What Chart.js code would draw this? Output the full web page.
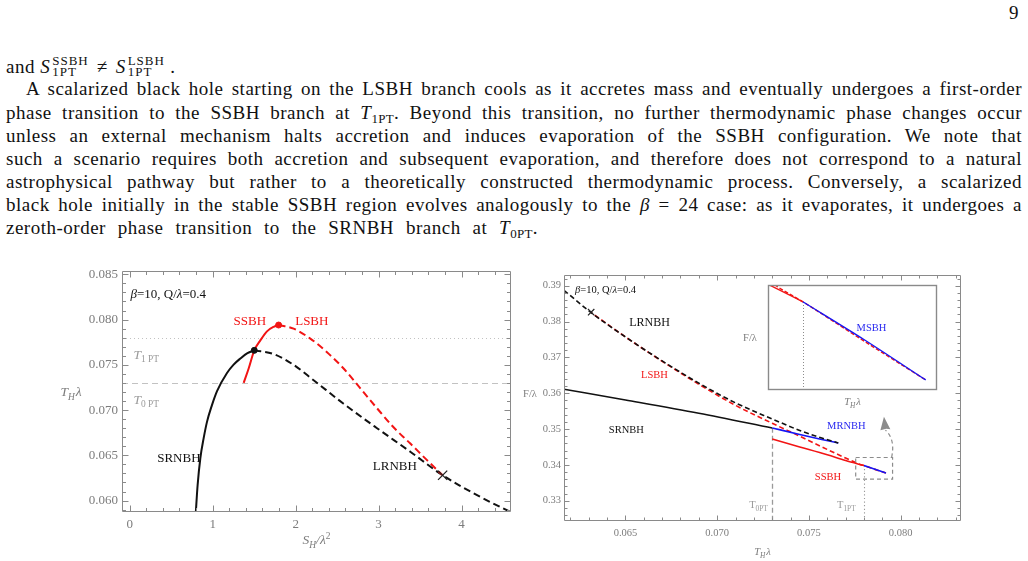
<!DOCTYPE html>
<html><head><meta charset="utf-8">
<script src="https://cdn.jsdelivr.net/npm/chart.js@4.4.1/dist/chart.umd.min.js"></script>
<style>
html,body{margin:0;padding:0;background:#fff;}
body{width:1028px;height:561px;position:relative;overflow:hidden;font-family:"Liberation Serif","Times New Roman",serif;color:#111;}
.ln{position:absolute;left:6px;width:1016px;font-size:19px;letter-spacing:0.5px;line-height:23px;text-align:justify;text-align-last:justify;}
.ss{display:inline-block;vertical-align:-3px;font-size:13px;line-height:11px;text-align:left;margin-left:2px;letter-spacing:1px;}
.ss span{display:block;}
.ne{display:inline-block;padding:0 8px;}
.sb{font-size:13px;vertical-align:-4px;line-height:0;letter-spacing:0.3px;}
canvas{position:absolute;}
</style></head>
<body>
<div class="ln" style="top:1px;left:1009px;width:20px;text-align:left;text-align-last:left;">9</div>
<div class="ln" style="top:55px;text-align:left;text-align-last:left;">and&nbsp;<i>S</i><span class="ss"><span>SSBH</span><span>1PT</span></span><span class="ne">≠</span><i>S</i><span class="ss"><span>LSBH</span><span>1PT</span></span>&nbsp;.</div>
<div class="ln" style="top:77px;text-indent:20px;">A scalarized black hole starting on the LSBH branch cools as it accretes mass and eventually undergoes a first-order</div>
<div class="ln" style="top:101px;">phase transition to the SSBH branch at <i>T</i><span class="sb">1PT</span>. Beyond this transition, no further thermodynamic phase changes occur</div>
<div class="ln" style="top:124px;">unless an external mechanism halts accretion and induces evaporation of the SSBH configuration. We note that</div>
<div class="ln" style="top:147px;">such a scenario requires both accretion and subsequent evaporation, and therefore does not correspond to a natural</div>
<div class="ln" style="top:170px;">astrophysical pathway but rather to a theoretically constructed thermodynamic process. Conversely, a scalarized</div>
<div class="ln" style="top:193px;">black hole initially in the stable SSBH region evolves analogously to the <i>β</i> = 24 case: as it evaporates, it undergoes a</div>
<div class="ln" style="top:216px;width:532px;">zeroth-order phase transition to the SRNBH branch at <i>T</i><span class="sb">0PT</span>.</div>

<canvas id="left" width="520" height="306" style="left:0;top:255px;"></canvas>
<canvas id="right" width="513" height="306" style="left:515px;top:255px;"></canvas>
<canvas id="inset" width="210" height="130" style="left:735px;top:280px;"></canvas>

<script>
// ===== Left panel: T_H λ versus S_H/λ² =====
const SRNBH_S = [0.796, 0.819, 0.852, 0.892, 0.932, 0.990, 1.053, 1.173, 1.250, 1.334, 1.420, 1.502];
const SRNBH_T = [0.0585, 0.0617, 0.0647, 0.0669, 0.0687, 0.0705, 0.0721, 0.0741, 0.0750, 0.0757, 0.0763, 0.0766];
const LRNBH_S = [1.502, 1.735, 1.976, 2.217, 2.578, 2.981, 3.382, 3.771, 4.186, 4.620];
const LRNBH_T = [0.0766, 0.0762, 0.0750, 0.0733, 0.0707, 0.0680, 0.0654, 0.0628, 0.0606, 0.0586];
const SSBH_S = [1.374, 1.434, 1.502, 1.575, 1.655, 1.735, 1.795];
const SSBH_T = [0.0730, 0.0746, 0.0766, 0.0777, 0.0787, 0.0792, 0.0794];
const LSBH_S = [1.795, 1.976, 2.177, 2.378, 2.578, 2.780, 2.981, 3.180, 3.382, 3.580, 3.771];
const LSBH_T = [0.0794, 0.0790, 0.0779, 0.0764, 0.0746, 0.0724, 0.0702, 0.0681, 0.0663, 0.0645, 0.0628];
const CRIT_POINT = [1.502, 0.0766];     // black dot
const TMAX_POINT = [1.795, 0.0794];     // red dot
const CROSS_POINT = [3.771, 0.0628];    // X mark
const T_1PT = 0.078;
const T_0PT = 0.073;
const LEFT_X_TICKS = [0, 1, 2, 3, 4];
const LEFT_Y_TICKS = [0.060, 0.065, 0.070, 0.075, 0.080, 0.085];

// ===== Right panel: F/λ versus T_H λ =====
const R_LRNBH_T = [0.06165, 0.0631, 0.0650, 0.0670, 0.0690, 0.0710, 0.0730, 0.0745, 0.0757, 0.0766];
const R_LRNBH_F = [0.3887, 0.3826, 0.3757, 0.3690, 0.3628, 0.3573, 0.3528, 0.3496, 0.3475, 0.3461];
const R_LSBH_T = [0.0631, 0.0650, 0.0670, 0.0690, 0.0710, 0.0730, 0.0745, 0.0760, 0.0770, 0.0777, 0.0780, 0.0786, 0.0792];
const R_LSBH_F = [0.3826, 0.3757, 0.3689, 0.3625, 0.3566, 0.3516, 0.3480, 0.3443, 0.3419, 0.3403, 0.3398, 0.33874, 0.3377];
const R_SRNBH_T = [0.06165, 0.0650, 0.0690, 0.0730];
const R_SRNBH_F = [0.3611, 0.3581, 0.3544, 0.3503];
const R_MRNBH_T = [0.0730, 0.0745, 0.0757, 0.0766];
const R_MRNBH_F = [0.3503, 0.3485, 0.3471, 0.3461];
const R_SSBH_T = [0.0730, 0.0745, 0.0760, 0.0770, 0.0780];
const R_SSBH_F = [0.3472, 0.3450, 0.3428, 0.3412, 0.3398];
const R_MSBH_T = [0.0780, 0.0786, 0.0792];
const R_MSBH_F = [0.3398, 0.33878, 0.3377];
const R_CROSS_POINT = [0.06313, 0.3826];
const ZOOM_BOX = [0.07755, 0.07956, 0.33603, 0.34205];   // T range, F range of the dashed box
const RIGHT_X_TICKS = [0.065, 0.070, 0.075, 0.080];
const RIGHT_Y_TICKS = [0.33, 0.34, 0.35, 0.36, 0.37, 0.38, 0.39];

// ===== styling =====
const FAM = '"Liberation Serif","Times New Roman",serif';
Chart.defaults.font.family = FAM;
const RED = '#f21414', BLUE = '#1515f5', BLACK = '#111111', GRAY = '#8a8a8a', TXTGRAY = '#7c7c7c';

function pts(xs, ys){ return xs.map((x, i) => ({x: x, y: ys[i]})); }
function curve(xs, ys, color, width, dash, offset){
  return {data: pts(xs, ys), borderColor: color, backgroundColor: color, borderWidth: width,
    borderDash: dash || [], borderDashOffset: offset || 0, pointRadius: 0, pointHoverRadius: 0,
    fill: false, cubicInterpolationMode: 'monotone', showLine: true, borderCapStyle: 'butt'};
}
function marker(p, style, r, color, bw){
  return {data: [{x: p[0], y: p[1]}], showLine: false, pointStyle: style, pointRadius: r,
    pointHoverRadius: r, pointBorderColor: color, pointBackgroundColor: color,
    pointBorderWidth: bw || 1, borderColor: color, backgroundColor: color};
}
function axis(min, max, ticks, fmt, size, pad, prop, val){
  return {type: 'linear', min: min, max: max,
    grid: {display: false, drawTicks: false}, border: {display: false},
    ticks: {autoSkip: false, maxRotation: 0, minRotation: 0, padding: pad, color: TXTGRAY,
      font: {size: size, family: FAM}, callback: (v) => fmt(v)},
    afterBuildTicks: (s) => { s.ticks = ticks.map(v => ({value: v})); },
    afterFit: (s) => { s[prop] = val; s.paddingTop = 0; s.paddingBottom = 0; s.paddingLeft = 0; s.paddingRight = 0; }
  };
}
function hidden(min, max){ return {type: 'linear', min: min, max: max, display: false}; }

function drawRich(ctx, segs, x, y, size, color, align){
  const parts = segs.map(s => {
    const fs = (s.sub || s.sup) ? size * 0.7 : size;
    const font = (s.i ? 'italic ' : '') + fs + 'px ' + FAM;
    ctx.font = font;
    return {t: s.t, font: font, w: ctx.measureText(s.t).width,
      dy: s.sub ? size * 0.27 : (s.sup ? -size * 0.4 : 0), gap: s.gap || 0};
  });
  const total = parts.reduce((a, p) => a + p.w + p.gap, 0);
  let cx = align === 'left' ? x : (align === 'right' ? x - total : x - total / 2);
  const by = y + size * 0.33;
  ctx.save();
  ctx.fillStyle = color; ctx.textAlign = 'left'; ctx.textBaseline = 'alphabetic';
  parts.forEach(p => { ctx.font = p.font; cx += p.gap; ctx.fillText(p.t, cx, by + p.dy); cx += p.w; });
  ctx.restore();
}
function seg(ctx, x1, y1, x2, y2){ ctx.beginPath(); ctx.moveTo(x1, y1); ctx.lineTo(x2, y2); ctx.stroke(); }

function frameTicks(o){
  return {id: 'frameTicks', afterDraw(chart){
    const {ctx, chartArea: a, scales: {x, y}} = chart;
    ctx.save(); ctx.strokeStyle = GRAY; ctx.lineWidth = 1; ctx.setLineDash([]);
    const l = Math.round(a.left) + 0.5, r = Math.round(a.right) - 0.5, t = Math.round(a.top) + 0.5, b = Math.round(a.bottom) - 0.5;
    ctx.beginPath(); ctx.rect(l, t, r - l, b - t);
    const isMaj = (v, m) => Math.abs(v / m - Math.round(v / m)) < 1e-6;
    let k0 = Math.ceil(x.min / o.xMinor - 1e-9), k1 = Math.floor(x.max / o.xMinor + 1e-9);
    for (let k = k0; k <= k1; k++){
      const v = k * o.xMinor, len = isMaj(v, o.xMajor) ? o.major : o.minor;
      const px = Math.round(x.getPixelForValue(v)) + 0.5;
      ctx.moveTo(px, b); ctx.lineTo(px, b - len); ctx.moveTo(px, t); ctx.lineTo(px, t + len);
    }
    k0 = Math.ceil(y.min / o.yMinor - 1e-9); k1 = Math.floor(y.max / o.yMinor + 1e-9);
    for (let k = k0; k <= k1; k++){
      const v = k * o.yMinor, len = isMaj(v, o.yMajor) ? o.major : o.minor;
      const py = Math.round(y.getPixelForValue(v)) + 0.5;
      ctx.moveTo(l, py); ctx.lineTo(l + len, py); ctx.moveTo(r, py); ctx.lineTo(r - len, py);
    }
    ctx.stroke(); ctx.restore();
    if (o.titles) o.titles(chart);
  }};
}

// ---------- text annotations ----------
const LEFT_LABELS = [
  {x: 0.01, y: 0.08282, segs: [{t: 'β', i: true}, {t: '=10, Q/'}, {t: 'λ', i: true}, {t: '=0.4'}], color: BLACK, size: 13, align: 'left'},
  {x: 1.448, y: 0.07983, segs: [{t: 'SSBH'}], color: RED, size: 13, align: 'center'},
  {x: 2.195, y: 0.07983, segs: [{t: 'LSBH'}], color: RED, size: 13, align: 'center'},
  {x: 0.046, y: 0.07618, segs: [{t: 'T', i: true}, {t: '1 PT', sub: true}], color: '#9a9a9a', size: 13.5, align: 'left'},
  {x: 0.046, y: 0.07121, segs: [{t: 'T', i: true}, {t: '0 PT', sub: true}], color: '#9a9a9a', size: 13.5, align: 'left'},
  {x: 0.593, y: 0.06479, segs: [{t: 'SRNBH'}], color: BLACK, size: 13, align: 'center'},
  {x: 3.195, y: 0.0639, segs: [{t: 'LRNBH'}], color: BLACK, size: 13, align: 'center'}
];
const RIGHT_LABELS = [
  {x: 0.06225, y: 0.3888, segs: [{t: 'β', i: true}, {t: '=10, Q/'}, {t: 'λ', i: true}, {t: '=0.4'}], color: BLACK, size: 10.5, align: 'left'},
  {x: 0.06631, y: 0.37988, segs: [{t: 'LRNBH'}], color: BLACK, size: 12, align: 'center'},
  {x: 0.06658, y: 0.3651, segs: [{t: 'LSBH'}], color: RED, size: 10.5, align: 'center'},
  {x: 0.06505, y: 0.34977, segs: [{t: 'SRNBH'}], color: BLACK, size: 10.5, align: 'center'},
  {x: 0.07704, y: 0.35089, segs: [{t: 'MRNBH'}], color: '#2a2af0', size: 10.5, align: 'center'},
  {x: 0.07604, y: 0.33667, segs: [{t: 'SSBH'}], color: RED, size: 10.5, align: 'center'},
  {x: 0.07225, y: 0.3288, segs: [{t: 'T'}, {t: '0PT', sub: true}], color: '#999', size: 10.5, align: 'center'},
  {x: 0.07704, y: 0.3288, segs: [{t: 'T'}, {t: '1PT', sub: true}], color: '#999', size: 10.5, align: 'center'}
];
function drawLabels(chart, list){
  const {ctx, scales: {x, y}} = chart;
  list.forEach(L => drawRich(ctx, L.segs, x.getPixelForValue(L.x), y.getPixelForValue(L.y), L.size, L.color, L.align));
}

// ---------- left chart ----------
const leftDeco = {id: 'leftDeco',
  beforeDatasetsDraw(chart){
    const {ctx, chartArea: a, scales: {y}} = chart;
    ctx.save(); ctx.strokeStyle = '#c2c2c2'; ctx.lineWidth = 1;
    let py = Math.round(y.getPixelForValue(T_1PT)) + 0.5;
    ctx.setLineDash([1, 3]); seg(ctx, a.left, py, a.right, py);
    py = Math.round(y.getPixelForValue(T_0PT)) + 0.5;
    ctx.setLineDash([6, 4]); seg(ctx, a.left, py, a.right, py);
    ctx.restore();
  },
  afterDatasetsDraw(chart){ drawLabels(chart, LEFT_LABELS); }
};
new Chart(document.getElementById('left'), {
  type: 'line',
  data: {datasets: [
    marker(CRIT_POINT, 'circle', 3, BLACK),
    marker(TMAX_POINT, 'circle', 3, RED),
    marker(CROSS_POINT, 'crossRot', 6.5, '#222', 1.3),
    curve(SSBH_S, SSBH_T, RED, 2),
    curve(LSBH_S, LSBH_T, RED, 2, [7, 4]),
    curve(SRNBH_S, SRNBH_T, BLACK, 2),
    curve(LRNBH_S, LRNBH_T, BLACK, 2, [7, 4])
  ]},
  options: {
    responsive: false, animation: false, devicePixelRatio: 1,
    layout: {padding: {left: 0, top: 16, right: 9, bottom: 0}},
    plugins: {legend: {display: false}, tooltip: {enabled: false}},
    scales: {
      x: axis(-0.092, 4.595, LEFT_X_TICKS, v => String(Math.round(v)), 13, 5, 'height', 49),
      y: axis(0.05874, 0.08537, LEFT_Y_TICKS, v => v.toFixed(3), 13, 4, 'width', 122)
    }
  },
  plugins: [leftDeco, frameTicks({xMinor: 0.2, xMajor: 1, yMinor: 0.001, yMajor: 0.005, major: 6, minor: 3.5,
    titles(chart){
      const {ctx, chartArea: a, scales: {y}} = chart;
      drawRich(ctx, [{t: 'T', i: true}, {t: 'H', i: true, sub: true}, {t: 'λ', i: true, gap: 1}], a.left - 51, y.getPixelForValue(0.0720), 13.5, TXTGRAY, 'center');
      drawRich(ctx, [{t: 'S', i: true}, {t: 'H', i: true, sub: true}, {t: '/λ', i: true}, {t: '2', sup: true}], (a.left + a.right) / 2, a.bottom + 28, 13.5, TXTGRAY, 'center');
    }})]
});

// ---------- right chart ----------
const rightDeco = {id: 'rightDeco',
  beforeDatasetsDraw(chart){
    const {ctx, chartArea: a, scales: {x, y}} = chart;
    ctx.save(); ctx.lineWidth = 1.3; ctx.strokeStyle = '#9a9a9a';
    let px = Math.round(x.getPixelForValue(T_0PT)) + 0.5;
    ctx.setLineDash([5, 3]); seg(ctx, px, a.bottom, px, y.getPixelForValue(R_SRNBH_F[R_SRNBH_F.length - 1]));
    px = Math.round(x.getPixelForValue(T_1PT)) + 0.5;
    ctx.lineWidth = 1.1; ctx.setLineDash([1.2, 2.4]); seg(ctx, px, a.bottom, px, y.getPixelForValue(R_SSBH_F[R_SSBH_F.length - 1]));
    ctx.restore();
  },
  afterDatasetsDraw(chart){
    const {ctx, scales: {x, y}} = chart;
    ctx.save(); ctx.strokeStyle = '#8c8c8c'; ctx.lineWidth = 1.2; ctx.setLineDash([4, 3]);
    const bx0 = x.getPixelForValue(ZOOM_BOX[0]), bx1 = x.getPixelForValue(ZOOM_BOX[1]);
    const by0 = y.getPixelForValue(ZOOM_BOX[3]), by1 = y.getPixelForValue(ZOOM_BOX[2]);
    ctx.strokeRect(bx0, by0, bx1 - bx0, by1 - by0);
    // curved dashed arrow from the box towards the inset
    const sx = bx1 - 1, sy = by0;
    const ex = x.getPixelForValue(0.07917), ey = y.getPixelForValue(0.3497);
    ctx.beginPath(); ctx.moveTo(sx, sy); ctx.quadraticCurveTo(sx + 4, sy - 18, ex, ey); ctx.stroke();
    const tx = x.getPixelForValue(0.07909), ty = y.getPixelForValue(0.3534);
    ctx.setLineDash([]); ctx.fillStyle = '#8c8c8c';
    const ang = Math.atan2(ty - ey, tx - ex), L = 13, W = 5;
    const bxp = tx - L * Math.cos(ang), byp = ty - L * Math.sin(ang);
    ctx.beginPath(); ctx.moveTo(tx, ty);
    ctx.lineTo(bxp + W * Math.sin(ang), byp - W * Math.cos(ang));
    ctx.lineTo(bxp - W * Math.sin(ang) * 0.2 + 1 * Math.cos(ang), byp + W * Math.cos(ang) * 0.2 + 1 * Math.sin(ang));
    ctx.lineTo(bxp - W * Math.sin(ang), byp + W * Math.cos(ang));
    ctx.closePath(); ctx.fill();
    ctx.restore();
    drawLabels(chart, RIGHT_LABELS);
  }
};
new Chart(document.getElementById('right'), {
  type: 'line',
  data: {datasets: [
    marker(R_CROSS_POINT, 'crossRot', 4.5, '#222', 1.2),
    curve(R_LRNBH_T, R_LRNBH_F, BLACK, 1.6, [5, 3]),
    curve(R_MSBH_T, R_MSBH_F, BLUE, 1.6),
    curve(R_MRNBH_T, R_MRNBH_F, BLUE, 1.6),
    curve(R_SSBH_T, R_SSBH_F, RED, 1.6),
    curve(R_LSBH_T, R_LSBH_F, RED, 1.6, [5, 3], 3),
    curve(R_SRNBH_T, R_SRNBH_F, BLACK, 1.6)
  ]},
  options: {
    responsive: false, animation: false, devicePixelRatio: 1,
    layout: {padding: {left: 0, top: 19.5, right: 67, bottom: 0}},
    plugins: {legend: {display: false}, tooltip: {enabled: false}},
    scales: {
      x: axis(0.06165, 0.08329, RIGHT_X_TICKS, v => v.toFixed(3), 10.5, 6, 'height', 40.3),
      y: axis(0.32442, 0.39312, RIGHT_Y_TICKS, v => v.toFixed(2), 10.5, 3, 'width', 49)
    }
  },
  plugins: [rightDeco, frameTicks({xMinor: 0.001, xMajor: 0.005, yMinor: 0.002, yMajor: 0.01, major: 5, minor: 3,
    titles(chart){
      const {ctx, chartArea: a, scales: {y}} = chart;
      drawRich(ctx, [{t: 'F/λ'}], a.left - 34, y.getPixelForValue(0.36), 10.5, TXTGRAY, 'center');
      drawRich(ctx, [{t: 'T', i: true}, {t: 'H', i: true, sub: true}, {t: 'λ', i: true, gap: 1}], (a.left + a.right) / 2, a.bottom + 31, 10.5, TXTGRAY, 'center');
    }})]
});

// ---------- inset (magnified region) ----------
const INSET_X = [0.07766, 0.07931];
const INSET_Y = [0.33743, 0.34025];
const insetDeco = {id: 'insetDeco',
  beforeDatasetsDraw(chart){
    const {ctx, chartArea: a, scales: {x, y}} = chart;
    ctx.save(); ctx.fillStyle = '#fff'; ctx.fillRect(a.left, a.top, a.right - a.left, a.bottom - a.top);
    ctx.strokeStyle = '#8c8c8c'; ctx.lineWidth = 1; ctx.setLineDash([1, 2]);
    const px = Math.round(x.getPixelForValue(T_1PT)) + 0.5;
    seg(ctx, px, a.bottom, px, y.getPixelForValue(R_MSBH_F[0]));
    ctx.restore();
  },
  afterDraw(chart){
    const {ctx, chartArea: a, scales: {x, y}} = chart;
    ctx.save(); ctx.strokeStyle = '#8a8a8a'; ctx.lineWidth = 1.4; ctx.setLineDash([]);
    ctx.strokeRect(a.left + 0.5, a.top + 0.5, a.right - a.left - 1, a.bottom - a.top - 1);
    ctx.restore();
    drawRich(ctx, [{t: 'MSBH'}], x.getPixelForValue(0.07867), y.getPixelForValue(0.3391), 10.5, '#2a2af0', 'center');
    drawRich(ctx, [{t: 'F/λ'}], a.left - 18, (a.top + a.bottom) / 2, 10.5, TXTGRAY, 'center');
    drawRich(ctx, [{t: 'T', i: true}, {t: 'H', i: true, sub: true}, {t: 'λ', i: true, gap: 1}], (a.left + a.right) / 2, a.bottom + 12, 10.5, TXTGRAY, 'center');
  }
};
new Chart(document.getElementById('inset'), {
  type: 'line',
  data: {datasets: [
    curve(R_MSBH_T, R_MSBH_F, BLUE, 1.4),
    curve(R_SSBH_T, R_SSBH_F, RED, 1.4),
    curve(R_LSBH_T, R_LSBH_F, RED, 1.4, [4, 2])
  ]},
  options: {
    responsive: false, animation: false, devicePixelRatio: 1,
    layout: {padding: {left: 33, top: 5, right: 8, bottom: 20}},
    plugins: {legend: {display: false}, tooltip: {enabled: false}},
    scales: {x: hidden(INSET_X[0], INSET_X[1]), y: hidden(INSET_Y[0], INSET_Y[1])}
  },
  plugins: [insetDeco]
});
</script>
</body></html>
